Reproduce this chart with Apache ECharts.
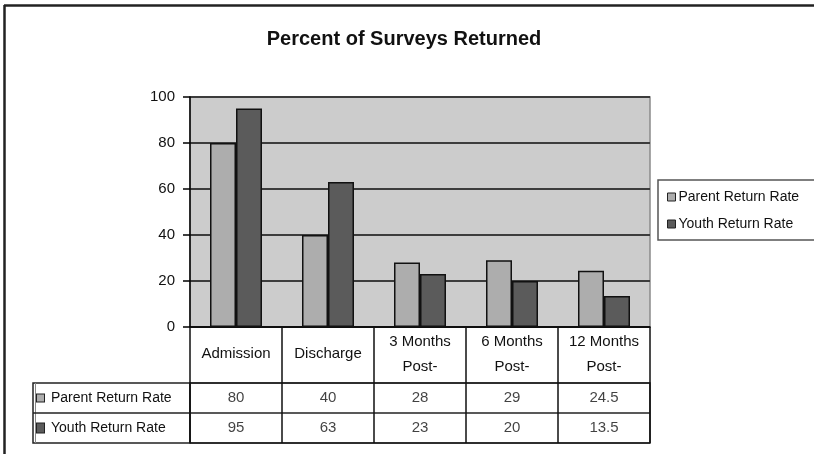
<!DOCTYPE html>
<html>
<head>
<meta charset="utf-8">
<script src="https://cdn.jsdelivr.net/npm/echarts@6/dist/echarts.min.js"></script>
<style>
  html, body { margin: 0; padding: 0; background: #fff; }
  #chart { width: 814px; height: 454px; }
</style>
</head>
<body>
<div id="chart"></div>
<script>
// Survey return rates by follow-up point
const categories = ['Admission', 'Discharge', '3 Months\nPost-', '6 Months\nPost-', '12 Months\nPost-'];
const seriesNames = ['Parent Return Rate', 'Youth Return Rate'];
const parentRate = [80, 40, 28, 29, 24.5];
const youthRate = [95, 63, 23, 20, 13.5];
const yTicks = [0, 20, 40, 60, 80, 100];

const FONT = "'Liberation Sans', Arial, sans-serif";
const PARENT_COLOR = '#adadad';
const YOUTH_COLOR = '#5b5b5b';

// Cells of the data table beneath the plot: [column, row, value]
const tableCells = [];
[parentRate, youthRate].forEach((arr, row) => {
  arr.forEach((v, col) => tableCells.push([col, row, v]));
});

const chart = echarts.init(document.getElementById('chart'), null, { renderer: 'canvas' });

chart.setOption({
  animation: false,
  backgroundColor: '#ffffff',
  textStyle: { fontFamily: FONT, color: '#111' },
  title: {
    text: 'Percent of Surveys Returned',
    left: 399, top: 24, textAlign: 'center',
    textStyle: { fontFamily: FONT, fontWeight: 'bold', fontSize: 20, color: '#111' }
  },
  legend: {
    data: seriesNames,
    orient: 'vertical',
    left: 658, top: 180,
    padding: [9, 40, 8, 9],
    itemGap: 11,
    itemWidth: 8, itemHeight: 8,
    icon: 'rect',
    borderColor: '#555', borderWidth: 1.5,
    itemStyle: { borderColor: '#222', borderWidth: 1 },
    textStyle: { fontFamily: FONT, fontSize: 14, lineHeight: 16, color: '#111', padding: [0, 0, 0, -2] }
  },
  grid: [
    { left: 190, top: 97, width: 460, height: 230, show: true, backgroundColor: '#cccccc', borderColor: '#8a8a8a', borderWidth: 1.5 },
    { left: 190, top: 383, width: 460, height: 60, show: true, backgroundColor: 'transparent', borderColor: '#222', borderWidth: 1.5 }
  ],
  xAxis: [
    {
      type: 'category', gridIndex: 0, data: categories,
      axisLine: { lineStyle: { color: '#000', width: 1.5 } },
      axisTick: { show: true, alignWithLabel: false, interval: 0, length: 116, lineStyle: { color: '#111', width: 1.5 } },
      axisLabel: { interval: 0, margin: 27, verticalAlign: 'middle', fontFamily: FONT, fontSize: 15, lineHeight: 25, color: '#111' }
    },
    {
      type: 'category', gridIndex: 1, data: categories,
      axisLine: { show: false }, axisTick: { show: false }, axisLabel: { show: false },
      splitLine: { show: false }
    }
  ],
  yAxis: [
    {
      type: 'value', gridIndex: 0, min: 0, max: 100, interval: 20,
      axisLine: { show: true, lineStyle: { color: '#000', width: 1.5 } },
      axisTick: { show: true, length: 7, lineStyle: { color: '#000', width: 1.5 } },
      axisLabel: {
        margin: 15, fontFamily: FONT, fontSize: 15, color: '#111',
        formatter: v => (yTicks.indexOf(v) >= 0 ? String(v) : '')
      },
      splitLine: { show: true, lineStyle: { color: '#3c3c3c', width: 2 } }
    },
    {
      type: 'category', gridIndex: 1, data: seriesNames, inverse: true,
      axisLine: { show: false }, axisTick: { show: false },
      splitLine: { show: true, interval: 0, lineStyle: { color: '#222', width: 1.5 } },
      axisLabel: {
        align: 'left', margin: 153, interval: 0,
        formatter: (v, i) => '{' + (i === 0 ? 'p' : 'y') + '|}{t|' + v + '}',
        rich: {
          p: { width: 7, height: 7, backgroundColor: PARENT_COLOR, borderColor: '#222', borderWidth: 1 },
          y: { width: 7, height: 9, backgroundColor: YOUTH_COLOR, borderColor: '#222', borderWidth: 1 },
          t: { fontFamily: FONT, fontSize: 14, color: '#111', padding: [0, 0, 0, 7] }
        }
      }
    }
  ],
  graphic: [
    // outer chart frame (top and left edges)
    { type: 'line', shape: { x1: 4, y1: 5.5, x2: 814, y2: 5.5 }, style: { stroke: '#222', lineWidth: 2.5 } },
    { type: 'line', shape: { x1: 4.5, y1: 5, x2: 4.5, y2: 454 }, style: { stroke: '#222', lineWidth: 2.5 } },
    // legend-key column of the data table
    { type: 'rect', shape: { x: 33, y: 383, width: 157, height: 60 }, style: { fill: 'none', stroke: '#222', lineWidth: 1.5 } },
    { type: 'line', shape: { x1: 35.5, y1: 383, x2: 35.5, y2: 443 }, style: { stroke: '#888', lineWidth: 1 } },
    { type: 'line', shape: { x1: 33, y1: 413, x2: 190, y2: 413 }, style: { stroke: '#222', lineWidth: 1.5 } }
  ],
  series: [
    {
      name: seriesNames[0], type: 'bar', xAxisIndex: 0, yAxisIndex: 0,
      data: parentRate, barWidth: 26, barGap: '0%',
      itemStyle: { color: PARENT_COLOR, borderColor: '#111', borderWidth: 1.5 }
    },
    {
      name: seriesNames[1], type: 'bar', xAxisIndex: 0, yAxisIndex: 0,
      data: youthRate, barWidth: 26, barGap: '0%',
      itemStyle: { color: YOUTH_COLOR, borderColor: '#111', borderWidth: 1.5 }
    },
    {
      type: 'scatter', xAxisIndex: 1, yAxisIndex: 1,
      data: tableCells.map(c => [c[0], c[1], c[2]]),
      symbolSize: 0,
      label: {
        show: true, position: 'inside',
        fontFamily: FONT, fontSize: 15, color: '#111',
        formatter: p => String(p.value[2])
      },
      silent: true
    }
  ]
});
</script>
</body>
</html>
